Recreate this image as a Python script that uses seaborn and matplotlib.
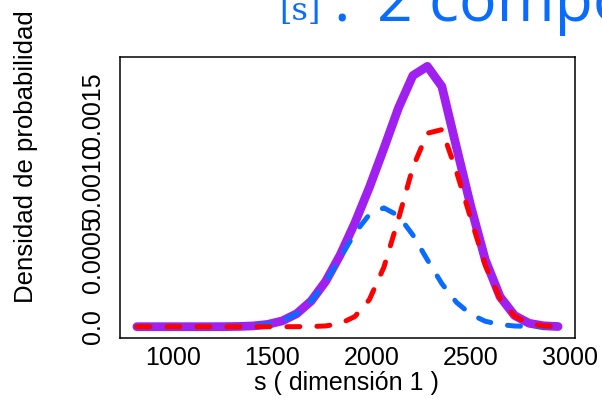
import matplotlib
matplotlib.use("Agg")
import matplotlib.pyplot as plt
import seaborn as sns
import pandas as pd

# ---- data ----
s_vals = [820, 893, 966, 1039, 1112, 1186, 1259, 1332, 1405, 1478,
          1551, 1624, 1697, 1770, 1843, 1917, 1990, 2063, 2136, 2209,
          2282, 2355, 2428, 2501, 2574, 2648, 2721, 2794, 2867, 2940]

mixture = [0.0, 0.0, 0.0, 0.0, 0.0, 0.0000001, 0.0000005, 0.0000017, 0.0000055, 0.0000159,
           0.0000402, 0.0000901, 0.0001785, 0.0003151, 0.0004983, 0.0007211, 0.0009682, 0.001239, 0.001519, 0.001746,
           0.00181, 0.00167, 0.00125, 0.000835, 0.000463, 0.000208, 0.0000776, 0.0000239, 0.0000061, 0.0000013]

comp1 = [0.0, 0.0, 0.0, 0.0, 0.00000002, 0.0000001, 0.0000005, 0.0000017, 0.0000055, 0.0000159,
         0.0000402, 0.0000899, 0.0001774, 0.0003097, 0.000477, 0.0006506, 0.0007801, 0.000826, 0.0007722, 0.0006374,
         0.0004649, 0.0002992, 0.0001701, 0.0000854, 0.0000378, 0.0000146, 0.000005, 0.0000015, 0.0000004, 0.0000001]

comp2 = [0.0, 0.0, 0.0, 0.0, 0.0, 0.0, 0.0, 0.0, 0.0, 0.0,
         0.0, 0.0000002, 0.0000011, 0.0000054, 0.0000213, 0.0000705, 0.0001881, 0.000413, 0.000747, 0.0011085,
         0.001345, 0.00137, 0.00108, 0.00075, 0.000425, 0.000193, 0.0000726, 0.0000224, 0.0000057, 0.0000012]

x_ticks = [1000, 1500, 2000, 2500, 3000]
y_ticks = [0.0, 0.0005, 0.0010, 0.0015]
y_tick_labels = ["0.0", "0.0005", "0.0010", "0.0015"]

title_a = "[s]"
title_colon = ":"
title_b = "2 componentes"
x_label = "s ( dimensión 1 )"
y_label = "Densidad de probabilidad"

PURPLE = "#A020F0"
BLUE = "#0A6CFF"
RED = "#FF0000"

sns.set_style("white")
plt.rcParams["font.family"] = ["Liberation Sans", "DejaVu Sans"]
plt.rcParams["text.color"] = "black"
plt.rcParams["axes.labelcolor"] = "black"
plt.rcParams["xtick.color"] = "black"
plt.rcParams["ytick.color"] = "black"

fig = plt.figure(figsize=(6.02, 3.99), dpi=100)
ax = fig.add_axes([120 / 602, 61 / 399, 455 / 602, 281 / 399])

df = pd.DataFrame({"s": s_vals, "mix": mixture, "c1": comp1, "c2": comp2})

sns.lineplot(data=df, x="s", y="mix", ax=ax, color=PURPLE, linewidth=6.3,
             solid_capstyle="round", solid_joinstyle="round")
sns.lineplot(data=df, x="s", y="c1", ax=ax, color=BLUE, linewidth=3.6)
sns.lineplot(data=df, x="s", y="c2", ax=ax, color=RED, linewidth=3.6)

for ln in ax.lines[1:]:
    ln.set_linestyle((0, (2.6, 3.4)))
    ln.set_dash_capstyle("round")
    ln.set_dash_joinstyle("round")

ax.set_xlim(735, 3025)
ax.set_ylim(-0.0000785, 0.001875)
ax.set_xticks(x_ticks)
ax.set_xticklabels([str(v) for v in x_ticks])
ax.set_yticks(y_ticks)
ax.set_yticklabels(y_tick_labels, rotation=90, va="center")

for sp in ax.spines.values():
    sp.set_color("black")
    sp.set_linewidth(1.1)
    sp.set_visible(True)

ax.tick_params(axis="both", direction="out", length=5, width=1.1, color="black",
               labelsize=18, labelcolor="black")
ax.tick_params(axis="x", pad=1)
ax.tick_params(axis="y", pad=5.5)

ax.set_xlabel(x_label, fontsize=18, color="black")
ax.set_ylabel(y_label, fontsize=18.5, color="black")
ax.xaxis.set_label_coords(0.498, -0.118)
ax.yaxis.set_label_coords(-0.180, 0.646)

fig.text(279 / 602, (399 - 20) / 399, title_a, color=BLUE, fontsize=23,
         family=["DejaVu Serif"], ha="left", va="baseline")
fig.text(333 / 602, (399 - 21) / 399, title_colon, color=BLUE, fontsize=45,
         family=["Open Sans", "DejaVu Sans"], ha="left", va="baseline")
fig.text(377 / 602, (399 - 21) / 399, title_b, color=BLUE, fontsize=45,
         family=["Open Sans", "DejaVu Sans"], ha="left", va="baseline")

fig.savefig("out.png", dpi=100)
